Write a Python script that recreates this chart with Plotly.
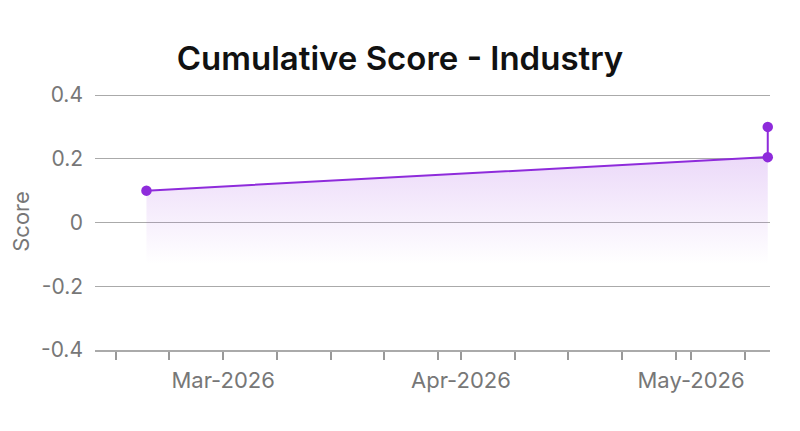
import plotly.graph_objects as go

# Data
dates = ["2026-02-19", "2026-05-11", "2026-05-11"]
scores = [0.1, 0.205, 0.3]

tick_dates = ["2026-02-15", "2026-02-22", "2026-03-01", "2026-03-08", "2026-03-15",
              "2026-03-22", "2026-03-29", "2026-04-01", "2026-04-08", "2026-04-15",
              "2026-04-22", "2026-04-29", "2026-05-01", "2026-05-08"]
tick_labels = ["", "", "Mar-2026", "", "", "", "", "Apr-2026", "", "", "", "", "May-2026", ""]

y_ticks = [-0.4, -0.2, 0, 0.2, 0.4]
y_labels = ["-0.4", "-0.2", "0", "0.2", "0.4"]

line_color = "#8E2BDB"
base_level = -0.15

fig = go.Figure()
# invisible baseline for the gradient fill
fig.add_trace(go.Scatter(
    x=[dates[0], dates[-1]], y=[base_level, base_level],
    mode="lines", line=dict(width=0, color="rgba(0,0,0,0)"),
    hoverinfo="skip", showlegend=False))
fig.add_trace(go.Scatter(
    x=dates, y=scores, mode="lines+markers",
    line=dict(color=line_color, width=2),
    marker=dict(color=line_color, size=10.5),
    fill="tonexty",
    fillgradient=dict(type="vertical",
                      colorscale=[[0, "rgba(160,70,225,0)"], [1, "rgba(160,70,225,0.26)"]],
                      start=-0.13, stop=0.3),
    cliponaxis=False,
    showlegend=False))

fig.update_layout(
    width=800, height=431,
    margin=dict(l=95, r=30, t=93, b=81),
    paper_bgcolor="white", plot_bgcolor="white",
    font=dict(family="Inter, sans-serif", color="#777777", size=21),
    title=dict(text="Cumulative Score - Industry", x=0.5, xanchor="center",
               y=1 - 58 / 431, yanchor="middle", yref="container",
               font=dict(family="Inter, sans-serif", size=33, color="#111111", weight=600)),
    xaxis=dict(
        range=["2026-02-12 07:00", "2026-05-11 07:00"],
        tickmode="array", tickvals=tick_dates, ticktext=tick_labels,
        ticks="outside", ticklen=8, tickwidth=1.5, tickcolor="#999999",
        showline=True, linecolor="#aaaaaa", linewidth=2,
        showgrid=False, zeroline=False,
        tickfont=dict(size=22, color="#777777"),
        ticklabelstandoff=2,
    ),
    yaxis=dict(
        range=[-0.4, 0.4063],
        tickmode="array", tickvals=y_ticks, ticktext=y_labels,
        showgrid=True, gridcolor="#aaaaaa", gridwidth=1,
        zeroline=False, showline=False,
        tickfont=dict(size=21, color="#777777"),
        ticklabelstandoff=11,
        title=dict(text="Score", font=dict(size=22, color="#777777"), standoff=5),
    ),
)

fig.write_html("out.html")
